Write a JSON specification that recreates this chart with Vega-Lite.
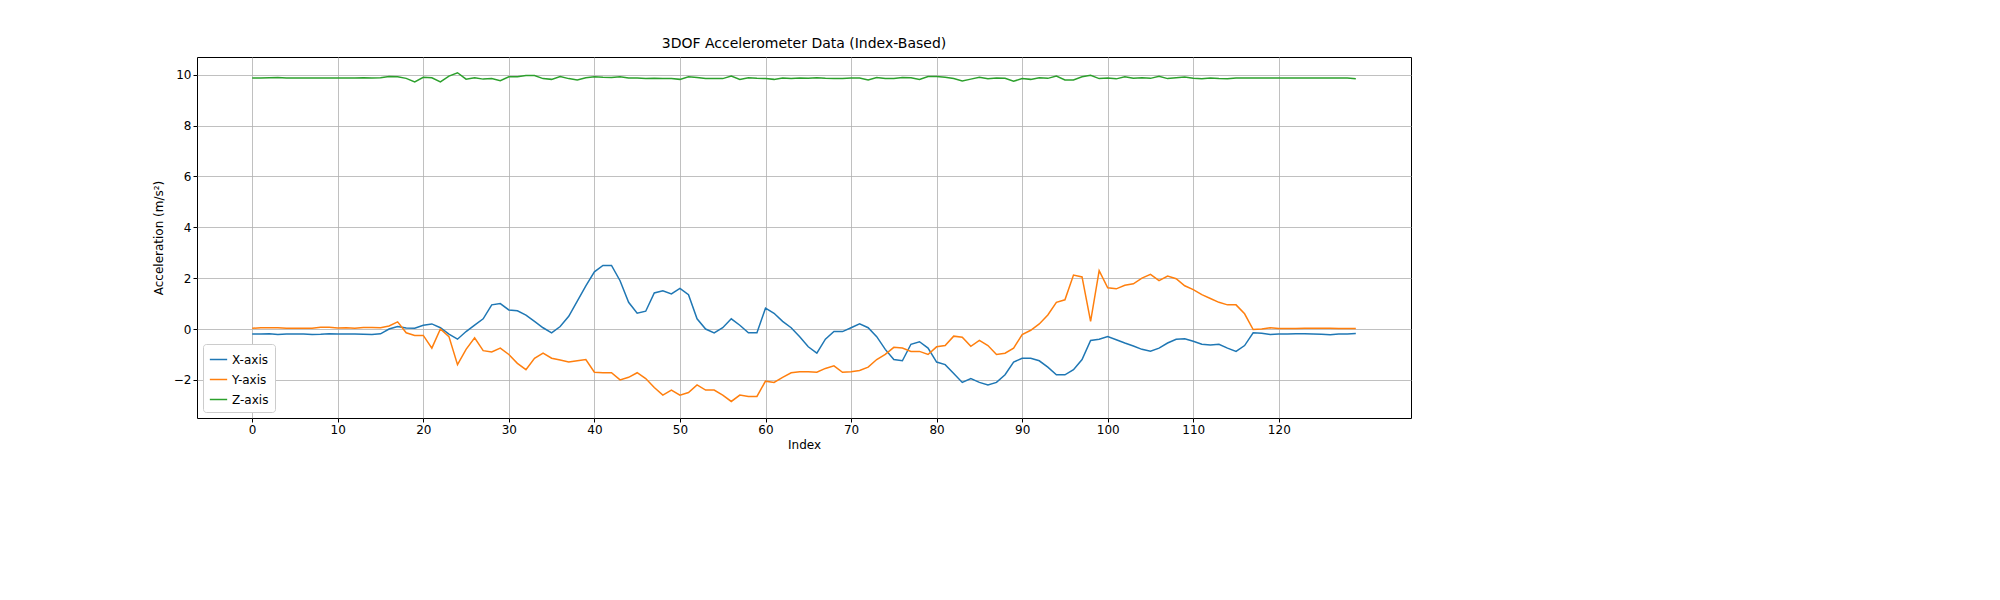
{
"$schema":"https://vega.github.io/schema/vega-lite/v6.json",
"autosize":"none",
"padding":{"left":197,"top":57,"right":589,"bottom":182},
"width":1214,"height":361,
"background":"white",
"title":{"text":"3DOF Accelerometer Data (Index-Based)","font":"DejaVu Sans","fontSize":14,"fontWeight":"normal","offset":6,"color":"black"},
"config":{"view":{"stroke":"black","strokeWidth":1},
"axis":{"labelFont":"DejaVu Sans","titleFont":"DejaVu Sans","labelFontSize":12,"titleFontSize":12,"titleFontWeight":"normal","labelColor":"black","titleColor":"black","gridColor":"#b0b0b0","gridWidth":0.8,"domain":false,"tickColor":"black","tickSize":4}},
"data":{"values":[
{"i":0,"X-axis":-0.2,"Y-axis":0.03,"Z-axis":9.87},
{"i":1,"X-axis":-0.2,"Y-axis":0.05,"Z-axis":9.87},
{"i":2,"X-axis":-0.19,"Y-axis":0.05,"Z-axis":9.88},
{"i":3,"X-axis":-0.22,"Y-axis":0.05,"Z-axis":9.89},
{"i":4,"X-axis":-0.2,"Y-axis":0.03,"Z-axis":9.87},
{"i":5,"X-axis":-0.2,"Y-axis":0.03,"Z-axis":9.87},
{"i":6,"X-axis":-0.2,"Y-axis":0.03,"Z-axis":9.87},
{"i":7,"X-axis":-0.22,"Y-axis":0.03,"Z-axis":9.87},
{"i":8,"X-axis":-0.21,"Y-axis":0.07,"Z-axis":9.87},
{"i":9,"X-axis":-0.19,"Y-axis":0.07,"Z-axis":9.87},
{"i":10,"X-axis":-0.2,"Y-axis":0.04,"Z-axis":9.87},
{"i":11,"X-axis":-0.2,"Y-axis":0.05,"Z-axis":9.87},
{"i":12,"X-axis":-0.2,"Y-axis":0.03,"Z-axis":9.87},
{"i":13,"X-axis":-0.21,"Y-axis":0.06,"Z-axis":9.88},
{"i":14,"X-axis":-0.22,"Y-axis":0.06,"Z-axis":9.87},
{"i":15,"X-axis":-0.19,"Y-axis":0.05,"Z-axis":9.88},
{"i":16,"X-axis":0.0,"Y-axis":0.12,"Z-axis":9.93},
{"i":17,"X-axis":0.1,"Y-axis":0.28,"Z-axis":9.92},
{"i":18,"X-axis":0.04,"Y-axis":-0.15,"Z-axis":9.86},
{"i":19,"X-axis":0.03,"Y-axis":-0.25,"Z-axis":9.72},
{"i":20,"X-axis":0.15,"Y-axis":-0.25,"Z-axis":9.9},
{"i":21,"X-axis":0.2,"Y-axis":-0.75,"Z-axis":9.88},
{"i":22,"X-axis":0.05,"Y-axis":0.0,"Z-axis":9.72},
{"i":23,"X-axis":-0.2,"Y-axis":-0.3,"Z-axis":9.95},
{"i":24,"X-axis":-0.4,"Y-axis":-1.4,"Z-axis":10.08},
{"i":25,"X-axis":-0.1,"Y-axis":-0.8,"Z-axis":9.83},
{"i":26,"X-axis":0.15,"Y-axis":-0.35,"Z-axis":9.88},
{"i":27,"X-axis":0.4,"Y-axis":-0.85,"Z-axis":9.83},
{"i":28,"X-axis":0.95,"Y-axis":-0.9,"Z-axis":9.85},
{"i":29,"X-axis":1.0,"Y-axis":-0.75,"Z-axis":9.77},
{"i":30,"X-axis":0.75,"Y-axis":-1.0,"Z-axis":9.92},
{"i":31,"X-axis":0.72,"Y-axis":-1.35,"Z-axis":9.92},
{"i":32,"X-axis":0.55,"Y-axis":-1.6,"Z-axis":9.97},
{"i":33,"X-axis":0.3,"Y-axis":-1.15,"Z-axis":9.97},
{"i":34,"X-axis":0.05,"Y-axis":-0.95,"Z-axis":9.85},
{"i":35,"X-axis":-0.15,"Y-axis":-1.15,"Z-axis":9.82},
{"i":36,"X-axis":0.1,"Y-axis":-1.22,"Z-axis":9.93},
{"i":37,"X-axis":0.5,"Y-axis":-1.3,"Z-axis":9.85},
{"i":38,"X-axis":1.1,"Y-axis":-1.25,"Z-axis":9.8},
{"i":39,"X-axis":1.7,"Y-axis":-1.2,"Z-axis":9.88},
{"i":40,"X-axis":2.25,"Y-axis":-1.7,"Z-axis":9.92},
{"i":41,"X-axis":2.5,"Y-axis":-1.72,"Z-axis":9.9},
{"i":42,"X-axis":2.5,"Y-axis":-1.72,"Z-axis":9.89},
{"i":43,"X-axis":1.9,"Y-axis":-2.0,"Z-axis":9.92},
{"i":44,"X-axis":1.05,"Y-axis":-1.9,"Z-axis":9.87},
{"i":45,"X-axis":0.62,"Y-axis":-1.72,"Z-axis":9.87},
{"i":46,"X-axis":0.7,"Y-axis":-1.95,"Z-axis":9.85},
{"i":47,"X-axis":1.42,"Y-axis":-2.3,"Z-axis":9.86},
{"i":48,"X-axis":1.5,"Y-axis":-2.6,"Z-axis":9.85},
{"i":49,"X-axis":1.38,"Y-axis":-2.4,"Z-axis":9.85},
{"i":50,"X-axis":1.6,"Y-axis":-2.6,"Z-axis":9.82},
{"i":51,"X-axis":1.35,"Y-axis":-2.5,"Z-axis":9.92},
{"i":52,"X-axis":0.4,"Y-axis":-2.2,"Z-axis":9.89},
{"i":53,"X-axis":0.0,"Y-axis":-2.4,"Z-axis":9.85},
{"i":54,"X-axis":-0.15,"Y-axis":-2.4,"Z-axis":9.85},
{"i":55,"X-axis":0.05,"Y-axis":-2.6,"Z-axis":9.85},
{"i":56,"X-axis":0.4,"Y-axis":-2.85,"Z-axis":9.95},
{"i":57,"X-axis":0.15,"Y-axis":-2.6,"Z-axis":9.82},
{"i":58,"X-axis":-0.15,"Y-axis":-2.65,"Z-axis":9.88},
{"i":59,"X-axis":-0.15,"Y-axis":-2.65,"Z-axis":9.86},
{"i":60,"X-axis":0.82,"Y-axis":-2.05,"Z-axis":9.85},
{"i":61,"X-axis":0.62,"Y-axis":-2.1,"Z-axis":9.82},
{"i":62,"X-axis":0.3,"Y-axis":-1.9,"Z-axis":9.87},
{"i":63,"X-axis":0.05,"Y-axis":-1.72,"Z-axis":9.85},
{"i":64,"X-axis":-0.3,"Y-axis":-1.68,"Z-axis":9.87},
{"i":65,"X-axis":-0.7,"Y-axis":-1.68,"Z-axis":9.86},
{"i":66,"X-axis":-0.95,"Y-axis":-1.7,"Z-axis":9.88},
{"i":67,"X-axis":-0.4,"Y-axis":-1.55,"Z-axis":9.86},
{"i":68,"X-axis":-0.1,"Y-axis":-1.45,"Z-axis":9.85},
{"i":69,"X-axis":-0.1,"Y-axis":-1.7,"Z-axis":9.85},
{"i":70,"X-axis":0.05,"Y-axis":-1.68,"Z-axis":9.87},
{"i":71,"X-axis":0.2,"Y-axis":-1.63,"Z-axis":9.87},
{"i":72,"X-axis":0.05,"Y-axis":-1.5,"Z-axis":9.8},
{"i":73,"X-axis":-0.3,"Y-axis":-1.2,"Z-axis":9.89},
{"i":74,"X-axis":-0.8,"Y-axis":-1.0,"Z-axis":9.85},
{"i":75,"X-axis":-1.2,"Y-axis":-0.72,"Z-axis":9.85},
{"i":76,"X-axis":-1.25,"Y-axis":-0.75,"Z-axis":9.89},
{"i":77,"X-axis":-0.6,"Y-axis":-0.88,"Z-axis":9.88},
{"i":78,"X-axis":-0.5,"Y-axis":-0.88,"Z-axis":9.82},
{"i":79,"X-axis":-0.75,"Y-axis":-1.0,"Z-axis":9.93},
{"i":80,"X-axis":-1.3,"Y-axis":-0.7,"Z-axis":9.93},
{"i":81,"X-axis":-1.4,"Y-axis":-0.65,"Z-axis":9.9},
{"i":82,"X-axis":-1.75,"Y-axis":-0.28,"Z-axis":9.85},
{"i":83,"X-axis":-2.1,"Y-axis":-0.32,"Z-axis":9.76},
{"i":84,"X-axis":-1.95,"Y-axis":-0.68,"Z-axis":9.83},
{"i":85,"X-axis":-2.1,"Y-axis":-0.45,"Z-axis":9.9},
{"i":86,"X-axis":-2.2,"Y-axis":-0.65,"Z-axis":9.84},
{"i":87,"X-axis":-2.1,"Y-axis":-1.0,"Z-axis":9.87},
{"i":88,"X-axis":-1.8,"Y-axis":-0.95,"Z-axis":9.86},
{"i":89,"X-axis":-1.3,"Y-axis":-0.75,"Z-axis":9.75},
{"i":90,"X-axis":-1.15,"Y-axis":-0.22,"Z-axis":9.85},
{"i":91,"X-axis":-1.15,"Y-axis":-0.05,"Z-axis":9.82},
{"i":92,"X-axis":-1.25,"Y-axis":0.2,"Z-axis":9.88},
{"i":93,"X-axis":-1.5,"Y-axis":0.55,"Z-axis":9.86},
{"i":94,"X-axis":-1.8,"Y-axis":1.05,"Z-axis":9.95},
{"i":95,"X-axis":-1.8,"Y-axis":1.15,"Z-axis":9.8},
{"i":96,"X-axis":-1.6,"Y-axis":2.12,"Z-axis":9.8},
{"i":97,"X-axis":-1.2,"Y-axis":2.05,"Z-axis":9.92},
{"i":98,"X-axis":-0.45,"Y-axis":0.3,"Z-axis":9.98},
{"i":99,"X-axis":-0.4,"Y-axis":2.3,"Z-axis":9.85},
{"i":100,"X-axis":-0.3,"Y-axis":1.62,"Z-axis":9.87},
{"i":101,"X-axis":-0.42,"Y-axis":1.58,"Z-axis":9.84},
{"i":102,"X-axis":-0.55,"Y-axis":1.72,"Z-axis":9.92},
{"i":103,"X-axis":-0.67,"Y-axis":1.78,"Z-axis":9.86},
{"i":104,"X-axis":-0.8,"Y-axis":2.0,"Z-axis":9.88},
{"i":105,"X-axis":-0.87,"Y-axis":2.15,"Z-axis":9.86},
{"i":106,"X-axis":-0.75,"Y-axis":1.9,"Z-axis":9.94},
{"i":107,"X-axis":-0.55,"Y-axis":2.08,"Z-axis":9.85},
{"i":108,"X-axis":-0.4,"Y-axis":1.98,"Z-axis":9.88},
{"i":109,"X-axis":-0.38,"Y-axis":1.7,"Z-axis":9.91},
{"i":110,"X-axis":-0.48,"Y-axis":1.55,"Z-axis":9.86},
{"i":111,"X-axis":-0.6,"Y-axis":1.35,"Z-axis":9.84},
{"i":112,"X-axis":-0.63,"Y-axis":1.2,"Z-axis":9.87},
{"i":113,"X-axis":-0.6,"Y-axis":1.05,"Z-axis":9.85},
{"i":114,"X-axis":-0.75,"Y-axis":0.95,"Z-axis":9.84},
{"i":115,"X-axis":-0.88,"Y-axis":0.95,"Z-axis":9.87},
{"i":116,"X-axis":-0.65,"Y-axis":0.6,"Z-axis":9.87},
{"i":117,"X-axis":-0.15,"Y-axis":-0.02,"Z-axis":9.87},
{"i":118,"X-axis":-0.17,"Y-axis":0.0,"Z-axis":9.87},
{"i":119,"X-axis":-0.22,"Y-axis":0.05,"Z-axis":9.87},
{"i":120,"X-axis":-0.2,"Y-axis":0.02,"Z-axis":9.87},
{"i":121,"X-axis":-0.2,"Y-axis":0.02,"Z-axis":9.87},
{"i":122,"X-axis":-0.19,"Y-axis":0.02,"Z-axis":9.87},
{"i":123,"X-axis":-0.19,"Y-axis":0.03,"Z-axis":9.87},
{"i":124,"X-axis":-0.2,"Y-axis":0.03,"Z-axis":9.87},
{"i":125,"X-axis":-0.21,"Y-axis":0.03,"Z-axis":9.87},
{"i":126,"X-axis":-0.23,"Y-axis":0.03,"Z-axis":9.87},
{"i":127,"X-axis":-0.2,"Y-axis":0.02,"Z-axis":9.87},
{"i":128,"X-axis":-0.2,"Y-axis":0.02,"Z-axis":9.87},
{"i":129,"X-axis":-0.18,"Y-axis":0.02,"Z-axis":9.84}
]},
"transform":[{"fold":["X-axis","Y-axis","Z-axis"],"as":["series","value"]}],
"mark":{"type":"line","strokeWidth":1.5,"clip":true},
"encoding":{
"x":{"field":"i","type":"quantitative","title":"Index","scale":{"domain":[-6.45,135.45],"nice":false,"zero":false},"axis":{"values":[0,10,20,30,40,50,60,70,80,90,100,110,120],"grid":true,"labelFlush":false,"titlePadding":4}},
"y":{"field":"value","type":"quantitative","title":"Acceleration (m/s²)","scale":{"domain":[-3.5,10.7],"nice":false,"zero":false},"axis":{"values":[-2,0,2,4,6,8,10],"grid":true,"labelFlush":false,"titlePadding":8}},
"color":{"field":"series","type":"nominal","scale":{"domain":["X-axis","Y-axis","Z-axis"],"range":["#1f77b4","#ff7f0e","#2ca02c"]},
"legend":{"title":null,"orient":"bottom-left","offset":6,"symbolType":"stroke","symbolStrokeWidth":1.5,"symbolSize":300,"labelFont":"DejaVu Sans","labelFontSize":12,"labelColor":"black","fillColor":"white","strokeColor":"#cccccc","padding":6,"cornerRadius":3,"rowPadding":4}}
}
}
